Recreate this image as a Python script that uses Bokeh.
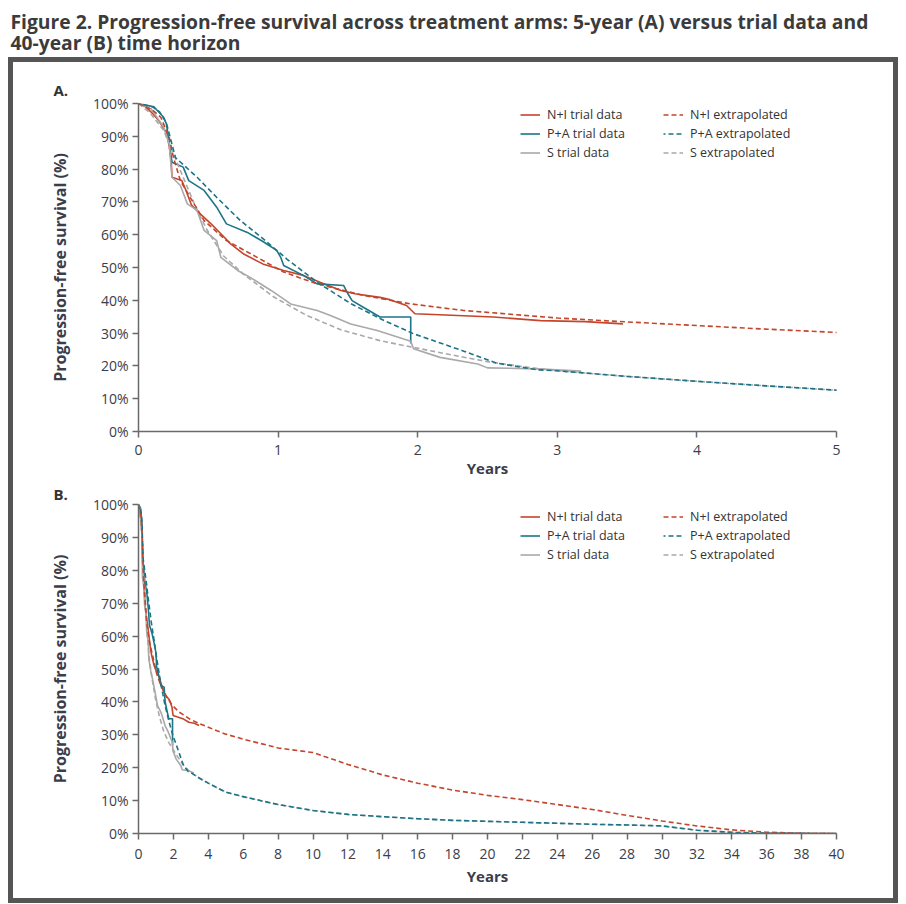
from bokeh.plotting import figure
from bokeh.models import (Range1d, FixedTicker, PrintfTickFormatter, Legend,
                          LegendItem, Div, Spacer)
from bokeh.layouts import column, row
from bokeh.embed import file_html
from bokeh.resources import INLINE
from bokeh.core.properties import value

FONT = "Open Sans"

# ---------------- data ----------------
title_line1 = "Figure 2. Progression-free survival across treatment arms: 5-year (A) versus trial data and"
title_line2 = "40-year (B) time horizon"

# Kaplan-Meier trial data (years, PFS %)
ni_trial_t = [0, 0.05, 0.1, 0.15, 0.2, 0.22, 0.235, 0.24, 0.31, 0.34, 0.38, 0.44, 0.52, 0.59,
              0.66, 0.75, 0.89, 1.04, 1.18, 1.30, 1.45, 1.55, 1.73, 1.80, 1.92, 1.98, 2.2,
              2.54, 2.88, 3.2, 3.47]
ni_trial_s = [100, 99, 97, 94.5, 91, 87, 82, 77.5, 76.5, 73.5, 69, 66.4, 63.3, 60.3,
              57.2, 54.2, 51.1, 49.1, 47.6, 45.5, 43.0, 42.0, 40.9, 40.2, 38.4, 35.9, 35.5,
              34.9, 33.8, 33.5, 32.8]

pa_trial_t = [0, 0.05, 0.11, 0.18, 0.2, 0.22, 0.24, 0.32, 0.36, 0.47, 0.56, 0.63, 0.78,
              0.90, 0.99, 1.02, 1.04, 1.18, 1.28, 1.47, 1.50, 1.53, 1.61, 1.73, 1.95, 1.95]
pa_trial_s = [100, 99.5, 99, 95.8, 93.8, 88, 82.1, 80.6, 76.5, 73.5, 68.4, 63.3, 60.7,
              57.7, 55.2, 53, 50.6, 47.6, 45.0, 44.5, 42, 39.9, 37.9, 34.9, 34.9, 26.8]

s_trial_t = [0, 0.09, 0.18, 0.22, 0.24, 0.30, 0.35, 0.42, 0.47, 0.56, 0.59, 0.71, 0.80,
             0.95, 1.09, 1.28, 1.375, 1.52, 1.71, 1.95, 1.97, 2.16, 2.43, 2.5, 2.86, 3.17]
s_trial_s = [100, 98.4, 92.8, 87.7, 77.5, 75, 69.4, 67.4, 61.3, 58.2, 53.1, 49.1, 47.0,
             43.0, 38.9, 36.9, 35.4, 32.8, 30.8, 27.5, 25.2, 22.6, 20.6, 19.4, 19.1, 18.4]

# Extrapolated curves (years, PFS %)
ni_ext_t = [0, 0.1, 0.16, 0.22, 0.25, 0.3, 0.37, 0.47, 0.63, 0.85, 1.04, 1.28, 1.61, 1.95,
            2.33, 3, 3.5, 4, 4.5, 5, 6, 8, 10, 12, 14, 16, 18, 20, 22, 24, 26, 28, 30,
            32, 34, 36, 38, 40]
ni_ext_s = [100, 98, 95.8, 89.7, 83.6, 76.5, 71.4, 64.3, 58.2, 53.1, 48.6, 45.0, 41.5, 38.9,
            36.9, 34.6, 33.4, 32.3, 31.2, 30.2, 28.7, 26.0, 24.6, 21.0, 17.8, 15.3, 13.2,
            11.6, 10.3, 8.8, 7.3, 5.5, 3.8, 2.3, 1.1, 0.4, 0.1, 0]

pa_ext_t = [0, 0.1, 0.15, 0.2, 0.265, 0.42, 0.56, 0.73, 0.90, 1.065, 1.28, 1.52, 1.76, 1.97,
            2.33, 2.57, 2.86, 3, 3.5, 4, 4.5, 5, 6, 8, 10, 12, 14, 16, 18, 20, 22, 24, 26,
            28, 30, 32, 34, 36, 38, 40]
pa_ext_s = [100, 99, 97.5, 94, 83.5, 77.5, 71.4, 64.3, 58.5, 52.5, 45.5, 39.0, 33.8, 29.8,
            24.5, 20.8, 18.8, 18.5, 16.8, 15.3, 13.9, 12.6, 11.2, 8.8, 7.0, 5.8, 5.1, 4.5,
            4.0, 3.7, 3.4, 3.1, 2.8, 2.6, 2.3, 1.0, 0.35, 0.1, 0.03, 0]

s_ext_t = [0, 0.086, 0.18, 0.24, 0.33, 0.40, 0.49, 0.61, 0.75, 0.97, 1.2, 1.45, 1.73, 1.95,
           2.25, 2.5, 2.75, 3, 3.5, 4, 4.5, 5, 6, 8, 10, 12, 14, 16, 18, 20, 22, 24, 26,
           28, 30, 32, 34, 36, 38, 40]
s_ext_s = [100, 97, 91.8, 85.7, 76.5, 69.4, 61.5, 53.5, 48.0, 41.0, 35.5, 31.0, 27.7, 25.8,
           23.3, 21.3, 19.8, 18.5, 16.8, 15.3, 13.9, 12.6, 11.2, 8.8, 7.0, 5.8, 5.1, 4.5,
           4.0, 3.7, 3.4, 3.1, 2.8, 2.6, 2.3, 1.0, 0.35, 0.1, 0.03, 0]

y_ticks = [0, 10, 20, 30, 40, 50, 60, 70, 80, 90, 100]
xa_ticks = [0, 1, 2, 3, 4, 5]
xb_ticks = list(range(0, 41, 2))

# ---------------- style ----------------
RED = "#c4452c"
TEAL = "#1c7586"
GREY = "#a9a9a9"
AX = "#6a6a6a"
TXT = "#3a3d4a"
BORDER = "#555555"


def make_panel(xmax, xticks, letter, height, top, bottom, letter_standoff,
               xtick_standoff, xlabel_standoff):
    p = figure(width=880, height=height, x_range=Range1d(0, xmax),
               y_range=Range1d(0, 100), toolbar_location=None,
               output_backend="svg", min_border_left=125, min_border_right=57,
               min_border_top=top, min_border_bottom=bottom)
    p.outline_line_color = None
    p.grid.visible = False
    p.background_fill_color = "white"
    p.border_fill_color = "white"

    p.title.text = letter
    p.title.align = "left"
    p.title.offset = -85
    p.title.standoff = letter_standoff
    p.title.text_font = FONT
    p.title.text_font_size = "15px"
    p.title.text_font_style = "bold"
    p.title.text_color = "#333333"

    for ax in (p.xaxis[0], p.yaxis[0]):
        ax.axis_line_color = AX
        ax.axis_line_width = 1.5
        ax.major_tick_line_color = AX
        ax.major_tick_line_width = 1.5
        ax.major_tick_out = 6
        ax.major_tick_in = 0
        ax.minor_tick_line_color = None
        ax.major_label_text_font = FONT
        ax.major_label_text_font_size = "14px"
        ax.major_label_text_color = TXT
        ax.axis_label_text_font = FONT
        ax.axis_label_text_font_style = "bold"
        ax.axis_label_text_color = TXT

    p.xaxis.ticker = FixedTicker(ticks=xticks)
    p.xaxis.axis_label = "Years"
    p.xaxis.axis_label_text_font_size = "15px"
    p.xaxis.major_label_standoff = xtick_standoff
    p.xaxis.axis_label_standoff = xlabel_standoff
    p.yaxis.ticker = FixedTicker(ticks=y_ticks)
    p.yaxis.formatter = PrintfTickFormatter(format="%d%%")
    p.yaxis.axis_label = "Progression-free survival (%)"
    p.yaxis.axis_label_text_font_size = "16px"
    p.yaxis.major_label_standoff = 4
    p.yaxis.axis_label_standoff = 19

    lw = 1.6
    r1 = p.line(ni_trial_t, ni_trial_s, line_color=RED, line_width=lw)
    r2 = p.line(pa_trial_t, pa_trial_s, line_color=TEAL, line_width=lw)
    r3 = p.line(s_trial_t, s_trial_s, line_color=GREY, line_width=lw)
    d3 = p.line(s_ext_t, s_ext_s, line_color=GREY, line_width=lw, line_dash="5 3")
    d1 = p.line(ni_ext_t, ni_ext_s, line_color=RED, line_width=lw, line_dash="5 3")
    d2 = p.line(pa_ext_t, pa_ext_s, line_color=TEAL, line_width=lw, line_dash="5 3",
                line_dash_offset=3)

    def leg(items, loc):
        lg = Legend(items=items, location=loc)
        lg.background_fill_alpha = 0
        lg.border_line_color = None
        lg.padding = 0
        lg.margin = 0
        lg.spacing = 0
        lg.glyph_width = 20
        lg.glyph_height = 19
        lg.label_height = 19
        lg.label_standoff = 7
        lg.label_text_font = FONT
        lg.label_text_font_size = "12.5px"
        lg.label_text_color = "#333333"
        p.add_layout(lg)

    leg([LegendItem(label="N+I trial data", renderers=[r1]),
         LegendItem(label="P+A trial data", renderers=[r2]),
         LegendItem(label="S trial data", renderers=[r3])], (382, 269))
    leg([LegendItem(label="N+I extrapolated", renderers=[d1]),
         LegendItem(label="P+A extrapolated", renderers=[d2]),
         LegendItem(label="S extrapolated", renderers=[d3])], (525, 269))
    return p


pA = make_panel(5, xa_ticks, "A.", 418, 41, 49, 8, 7, 0)
pB = make_panel(40, xb_ticks, "B.", 418, 23, 65, 2, 9, 4)

# title strip
pt = figure(width=890, height=57, x_range=Range1d(0, 890), y_range=Range1d(57, 0),
            toolbar_location=None, output_backend="svg", min_border=0)
pt.axis.visible = False
pt.grid.visible = False
pt.outline_line_color = None
pt.text(x=[2, 2], y=[21, 42], text=[title_line1, title_line2], text_font=value(FONT),
        text_font_size="19.3px", text_font_style="bold", text_color="#3b3b3b",
        text_baseline="alphabetic")


def strip(w, h):
    return Div(text="", width=w, height=h, margin=(0, 0, 0, 0),
               styles={"background-color": BORDER})


panels = column(pA, pB, spacing=0)
inner = column(pt, strip(890, 5),
               row(strip(5, 836), panels, strip(5, 836), spacing=0),
               strip(890, 5), spacing=0)
layout = row(Spacer(width=8, height=10), inner, spacing=0)

open("out.html", "w").write(file_html(layout, INLINE))
